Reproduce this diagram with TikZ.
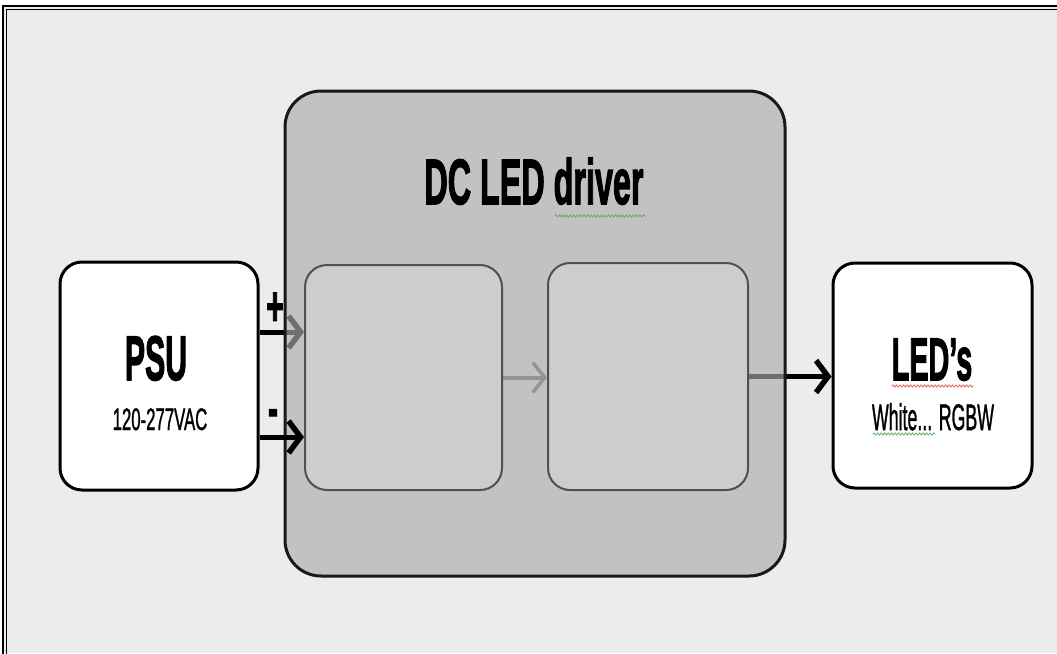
\documentclass[tikz,border=0pt]{standalone}
\usepackage{fontspec}
\setmainfont{Liberation Sans}
\newfontfamily\hvy{Liberation Sans}[UprightFeatures={FakeBold=2.5}, BoldFeatures={FakeBold=2.5}]
\newfontfamily\med{Liberation Sans}[UprightFeatures={FakeBold=1.5}]
\usepackage{graphicx}
\usetikzlibrary{arrows.meta,decorations.pathmorphing}
\pgfdeclarelayer{back}
\pgfdeclarelayer{mid}
\pgfsetlayers{back,mid,main}
\definecolor{bgc}{HTML}{ECECEC}
\definecolor{drvfill}{HTML}{ACACAC}
\definecolor{innerfill}{HTML}{CDCDCD}
\definecolor{innerline}{HTML}{505050}
\definecolor{grayarrow}{HTML}{6A6A6A}
\definecolor{sqred}{HTML}{E06060}
\definecolor{sqgreen}{HTML}{60B060}
\newcommand{\hsq}[2]{\scalebox{#1}[1]{#2}}
\tikzset{
  whitebox/.style={draw=black, line width=3pt, fill=white, rounded corners=22pt, inner sep=0pt},
  drvbox/.style={draw=black!90, line width=3pt, fill=drvfill, fill opacity=0.65, draw opacity=1, rounded corners=36pt, inner sep=0pt},
  innerbox/.style={draw=innerline, line width=2pt, fill=innerfill, rounded corners=22pt, inner sep=0pt},
  wire/.style={line width=5pt, -{Straight Barb[length=12pt,width=32pt,line width=5.5pt]}},
  graywire/.style={line width=4pt, draw=grayarrow, -{Straight Barb[length=12pt,width=30pt,line width=3.5pt]}},
  lbl/.style={anchor=base, inner sep=0pt, text=black},
  squig/.style={line width=0.8pt, decorate, decoration={snake, amplitude=1.1pt, segment length=3.5pt}},
  frameline/.style={line width=1.4pt, draw=black}
}
\begin{document}
\begin{tikzpicture}[x=1pt,y=-1pt]
\useasboundingbox (0,0) rectangle (1057,653);
\begin{pgfonlayer}{back}
  \fill[white] (0,0) rectangle (1057,653);
  \fill[bgc] (3,6) rectangle (1057,653);
  \draw[frameline] (3,660) -- (3,6) -- (1060,6);
  \draw[frameline] (6.5,660) -- (6.5,9.5) -- (1060,9.5);
\end{pgfonlayer}

% nodes
\node[whitebox, minimum width=198pt, minimum height=228pt] (psu) at (159,376) {};
\node[whitebox, minimum width=199pt, minimum height=225pt] (led) at (932.5,375.5) {};
\node[drvbox, minimum width=500pt, minimum height=485pt] (drv) at (535,333.5) {};
\node[innerbox, minimum width=197pt, minimum height=225pt] (b1) at (403.5,377.5) {};
\node[innerbox, minimum width=200pt, minimum height=227pt] (b2) at (648,376.5) {};

\coordinate (pplus) at (0,332);
\coordinate (pminus) at (0,437);

\begin{pgfonlayer}{mid}
  \draw[wire] (psu.east |- pplus) -- (b1.west |- pplus);
  \draw[wire] (b2.east) -- (led.west |- b2.east);
  \draw[graywire] (b1.east) -- (b2.west |- b1.east);
\end{pgfonlayer}

\draw[wire] (psu.east |- pminus) -- (b1.west |- pminus);

% texts
\node[lbl] (title) at (534,204) {\fontsize{64}{64}\hvy\bfseries\hsq{0.505}{DC LED driver}};
\node[lbl] (psut) at (156,380) {\fontsize{63}{63}\hvy\bfseries\hsq{0.48}{PSU}};
\node[lbl] (psusub) at (160,430) {\fontsize{31}{31}\med\hsq{0.54}{120-277VAC}};
\node[lbl] (ledt) at (932,380) {\fontsize{60}{60}\hvy\bfseries\hsq{0.48}{LED’s}};
\node[lbl] (ledsub) at (933,430) {\fontsize{37}{37}\med\hsq{0.48}{White... RGBW}};
\node[lbl] (plus) at (275,325) {\fontsize{55}{55}\hvy\bfseries\hsq{0.55}{+}};
\node[lbl] (minus) at (273,427) {\fontsize{55}{55}\hvy\bfseries\hsq{0.55}{-}};

% spell-check squiggles
\draw[squig, sqgreen] (555,216) -- (646,216);
\draw[squig, sqred] (892,386) -- (973,386);
\draw[squig, sqgreen] (873,434) -- (935,434);
\end{tikzpicture}
\end{document}
